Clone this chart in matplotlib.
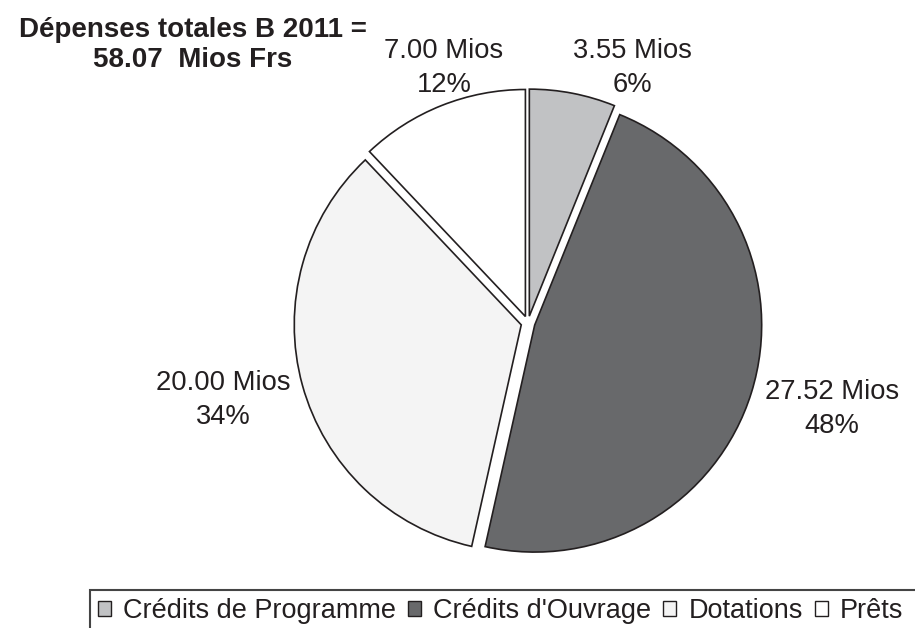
import matplotlib
matplotlib.use("Agg")
import matplotlib.pyplot as plt
from matplotlib.patches import Patch, Rectangle

plt.rcParams['font.family'] = ['Liberation Sans', 'DejaVu Sans']

# data
categories = ["Crédits de Programme", "Crédits d'Ouvrage", "Dotations", "Prêts"]
values = [3.55, 27.52, 20.00, 7.00]
percents = [6, 48, 34, 12]
total_label = "58.07"
colors = ['#c1c2c4', '#68696b', '#f4f4f4', '#ffffff']

W, H = 915, 628
fig = plt.figure(figsize=(W / 100, H / 100), dpi=100)
ax = fig.add_axes([0, 0, 1, 1])

cx, cy, r = 528, H - 323, 227
ax.pie(values, colors=colors, startangle=90, counterclock=False,
       explode=[7] * 4, center=(cx, cy), radius=r,
       wedgeprops=dict(edgecolor='#231f20', linewidth=1.2))
ax.set_xlim(0, W)
ax.set_ylim(0, H)
ax.set_aspect('equal')
ax.axis('off')

# label centres in pixel coords (x, y from top)
label_pos = [(632, 68), (832, 409), (223, 400), (444, 68)]
for v, p, (lx, ly) in zip(values, percents, label_pos):
    ax.text(lx, H - ly, f"{v:.2f} Mios\n{p}%", ha='center', va='center',
            fontsize=19.7, color='#231f20', linespacing=1.4)

ax.text(193, H - 45, f"Dépenses totales B 2011 =\n{total_label}  Mios Frs",
        ha='center', va='center', fontsize=20, fontweight='bold',
        color='#231f20', linespacing=1.2)

# legend, its box runs off the right and bottom edges
lx0, ly0 = 90 / W, 1 - 590 / H
handles = [Patch(facecolor=c, edgecolor='#231f20', linewidth=1.0) for c in colors]
leg = fig.legend(handles, categories, ncol=4, loc='upper left',
                 bbox_to_anchor=(lx0, ly0), borderaxespad=0,
                 fontsize=19.5, handlelength=0.47, handleheight=0.47,
                 handletextpad=0.45, columnspacing=0.45, borderpad=0.3,
                 frameon=False)
for t in leg.get_texts():
    t.set_color('#231f20')
fig.patches.append(Rectangle((lx0, -0.1), 1.2, ly0 + 0.1, transform=fig.transFigure,
                             facecolor='none', edgecolor='#444444', linewidth=1.5))

fig.savefig('out.png', dpi=100)
